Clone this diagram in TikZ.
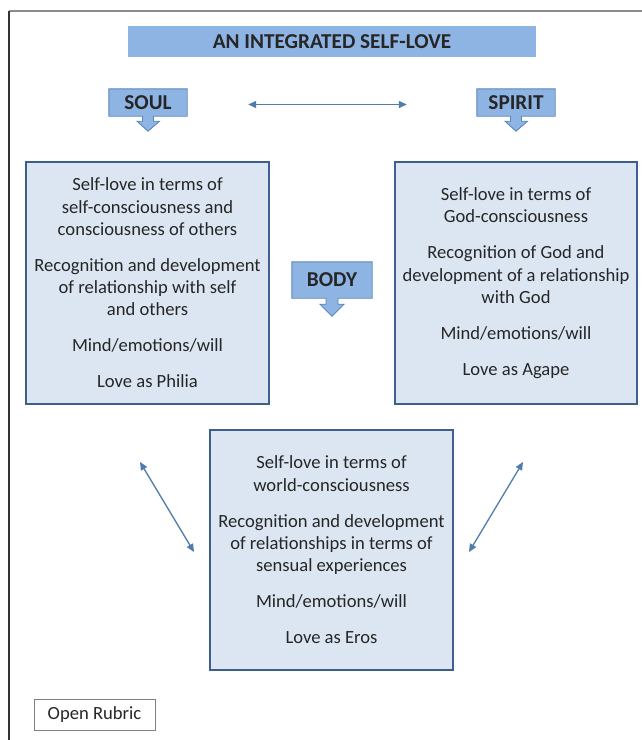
\documentclass[tikz,border=0pt]{standalone}
\usepackage{fontspec}
\setmainfont{Carlito}
\usetikzlibrary{arrows.meta,backgrounds}
\definecolor{titlefill}{HTML}{8EB4E3}
\definecolor{callfill}{HTML}{8EB4E3}
\definecolor{callline}{HTML}{5A86BD}
\definecolor{boxfill}{HTML}{DCE6F2}
\definecolor{boxline}{HTML}{3D5F8A}
\definecolor{arrowcol}{HTML}{4F7CAC}
\definecolor{txt}{HTML}{262626}
\tikzset{
  bodytext/.style={font=\fontsize{18.6}{22.3}\selectfont, text=txt},
  titlebar/.style={fill=titlefill, draw=none, minimum width=408pt, minimum height=31pt, inner sep=0pt,
    font=\bfseries\fontsize{21.2}{24}\selectfont, text=txt},
  calltext/.style={draw=none, fill=none, inner sep=0pt,
    font=\bfseries\fontsize{21.2}{24}\selectfont, text=txt},
  callshape/.style={fill=callfill, draw=callline, line width=0.9pt, line join=miter},
  mainbox/.style={bodytext, fill=boxfill, draw=boxline, line width=2.2pt, align=center, inner sep=0pt},
  conn/.style={draw=arrowcol, line width=1.3pt, {Triangle[length=8pt,width=7pt]}-{Triangle[length=8pt,width=7pt]}},
  rubric/.style={bodytext, draw=black!50, line width=0.8pt, minimum width=121pt, minimum height=31pt, inner sep=0pt},
}
\begin{document}
\begin{tikzpicture}[x=1pt,y=-1pt]
\useasboundingbox (0,0) rectangle (641,740);
% frame
\draw[draw=black!45, line width=1.5pt] (9,11) -- (650,11);
\draw[draw=black!80, line width=1.2pt] (9,11) -- (9,750);
% title
\node[titlebar] (title) at (332,41.5) {AN INTEGRATED SELF-LOVE};
% callouts
\node[calltext, minimum width=78pt, minimum height=27pt] (soul) at (148,102.5) {SOUL};
\node[calltext, minimum width=78pt, minimum height=27pt] (spirit) at (516,102.5) {SPIRIT};
\node[calltext, minimum width=80pt, minimum height=36pt] (body) at (332,280) {BODY};
\begin{scope}[on background layer]
\path[callshape] (soul.north west) -- (soul.north east) -- (soul.south east)
  -- ([xshift=5.5pt]soul.south) -- ++(0,5) -- ++(6,0) -- ([yshift=-15pt]soul.south)
  -- ++(-11,-10) -- ++(5.5,0) -- ([xshift=-5.5pt]soul.south) -- (soul.south west) -- cycle;
\path[callshape] (spirit.north west) -- (spirit.north east) -- (spirit.south east)
  -- ([xshift=5.5pt]spirit.south) -- ++(0,5) -- ++(6,0) -- ([yshift=-15pt]spirit.south)
  -- ++(-11,-10) -- ++(5.5,0) -- ([xshift=-5.5pt]spirit.south) -- (spirit.south west) -- cycle;
\path[callshape] (body.north west) -- (body.north east) -- (body.south east)
  -- ([xshift=6pt]body.south) -- ++(0,6) -- ++(6,0) -- ([yshift=-18pt]body.south)
  -- ++(-12,-12) -- ++(6,0) -- ([xshift=-6pt]body.south) -- (body.south west) -- cycle;
\end{scope}
% main boxes
\node[mainbox, minimum width=243pt, minimum height=242pt] (soulbox) at (147.5,283)
{Self-love in terms of\\self-consciousness and\\consciousness of others\\[13.7pt]Recognition and development\\of relationship with self\\and others\\[13.7pt]Mind/emotions/will\\[13.7pt]Love as Philia};
\node[mainbox, minimum width=242pt, minimum height=242pt] (spiritbox) at (516,283)
{Self-love in terms of\\God-consciousness\\[13.7pt]Recognition of God and\\development of a relationship\\with God\\[13.7pt]Mind/emotions/will\\[13.7pt]Love as Agape};
\node[mainbox, minimum width=243pt, minimum height=240pt] (bodybox) at (331.5,550)
{Self-love in terms of\\world-consciousness\\[13.7pt]Recognition and development\\of relationships in terms of\\sensual experiences\\[13.7pt]Mind/emotions/will\\[13.7pt]Love as Eros};
% connectors
\draw[conn, shorten <=61pt, shorten >=70pt] ([yshift=-2pt]soul.east) -- ([yshift=-2pt]spirit.west);
\coordinate (la) at (140,462);
\coordinate (lb) at (194,552);
\coordinate (ra) at (523,462);
\coordinate (rb) at (469,552);
\draw[conn] (la) -- (lb);
\draw[conn] (ra) -- (rb);
% rubric
\node[rubric] (rub) at (94.5,714.5) {Open Rubric};
\end{tikzpicture}
\end{document}
